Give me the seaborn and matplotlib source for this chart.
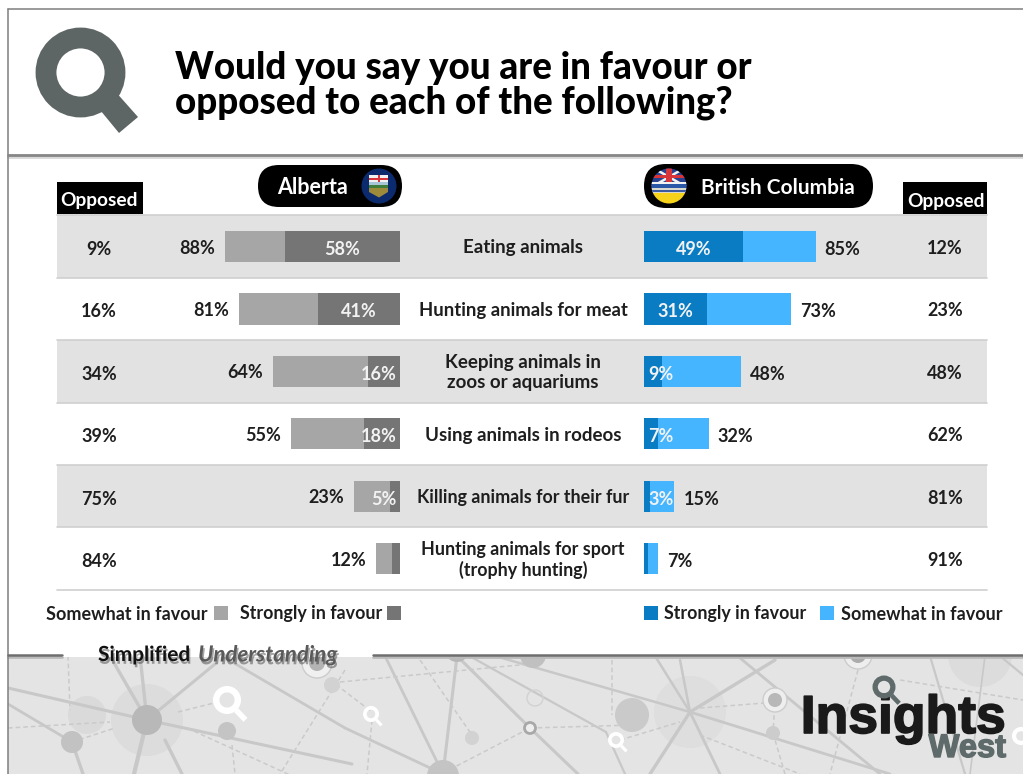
import numpy as np
import pandas as pd
import matplotlib
matplotlib.use("Agg")
import matplotlib.pyplot as plt
import matplotlib.patheffects as pe
from matplotlib.patches import Circle, FancyBboxPatch, Polygon, Rectangle
import seaborn as sns

# Survey results, in percent
activities = ["Eating animals", "Hunting animals for meat",
              "Keeping animals in\nzoos or aquariums", "Using animals in rodeos",
              "Killing animals for their fur",
              "Hunting animals for sport\n(trophy hunting)"]
ab_opposed = [9, 16, 34, 39, 75, 84]
ab_favour = [88, 81, 64, 55, 23, 12]
ab_strong = [58, 41, 16, 18, 5, 4]
ab_strong_labels = ["58%", "41%", "16%", "18%", "5%", ""]
bc_opposed = [12, 23, 48, 62, 81, 91]
bc_favour = [85, 73, 48, 32, 15, 7]
bc_strong = [49, 31, 9, 7, 3, 2]
bc_strong_labels = ["49%", "31%", "9%", "7%", "3%", ""]

title_lines = "Would you say you are in favour or\nopposed to each of the following?"

AB_LIGHT, AB_DARK = "#a6a6a6", "#757575"
BC_LIGHT, BC_DARK = "#45b5ff", "#0a7cc4"
BAND = "#e2e2e2"
RULE = "#cfcfcf"
GREY_ICON = "#5d6664"
FONT = "Lato"

W, H = 1023, 774
sns.set_theme(style="white")
plt.rcParams["font.family"] = [FONT, "DejaVu Sans"]
fig = plt.figure(figsize=(W / 100, H / 100), dpi=100, facecolor="white")


def px_axes(x0, y0, x1, y1, **kw):
    """Axes placed by pixel box, origin at the top left of the figure."""
    return fig.add_axes([x0 / W, 1 - y1 / H, (x1 - x0) / W, (y1 - y0) / H], **kw)


canvas = px_axes(0, 0, W, H, zorder=0)
canvas.set_xlim(0, W)
canvas.set_ylim(H, 0)
canvas.axis("off")


def lens(cx, cy, r, color, zorder=3.0):
    """Magnifying-glass icon centred on the lens."""
    band = r * 0.46
    canvas.add_patch(Circle((cx, cy), r - band / 2, fc="none", ec=color,
                            lw=band * 0.72, zorder=zorder))
    canvas.plot([cx + r * 0.65, cx + r * 1.32], [cy + r * 0.72, cy + r * 1.42],
                color=color, lw=band * 0.62, solid_capstyle="butt", zorder=zorder)


# Network artwork along the footer
footer = Rectangle((8, 656), W - 8, H - 656, fc="#e4e4e4", ec="none", zorder=0)
canvas.add_patch(footer)
solid = [((8, 688), (147, 720), 2.2), ((8, 704), (72, 742), 2.0), ((110, 656), (147, 720), 2.4),
         ((140, 656), (147, 720), 2.4), ((147, 720), (215, 664), 2.2), ((147, 720), (352, 764), 2.2),
         ((147, 720), (134, 774), 3), ((165, 740), (182, 774), 2.4), ((72, 742), (83, 774), 2.4),
         ((222, 656), (345, 728), 2.0), ((345, 728), (443, 774), 2.0), ((385, 656), (443, 774), 2),
         ((457, 656), (443, 774), 2.2), ((457, 656), (530, 728), 2.2), ((530, 728), (578, 774), 2.2),
         ((473, 658), (606, 732), 1.6), ((495, 656), (690, 712), 1.8), ((606, 732), (625, 774), 1.6),
         ((655, 656), (690, 712), 1.8), ((690, 712), (680, 660), 1.8), ((690, 712), (775, 660), 2.4),
         ((690, 712), (890, 774), 2.0), ((690, 712), (650, 774), 2.4), ((690, 712), (720, 774), 2.0),
         ((740, 658), (880, 774), 2.0), ((930, 656), (965, 774), 1.6), ((985, 656), (970, 774), 1.2),
         ((1000, 656), (1023, 675), 1.6)]
for a, b, lw in solid:
    canvas.plot(*zip(a, b), color="#c8c8c8", lw=lw, solid_capstyle="round", zorder=0.2)[0].set_clip_path(footer)
dashed = [((68, 656), (70, 710)), ((8, 728), (110, 722)), ((72, 742), (115, 728)),
          ((178, 712), (214, 703)), ((187, 728), (290, 775)), ((330, 680), (372, 712)),
          ((345, 670), (280, 774)), ((232, 745), (235, 774)), ((372, 720), (367, 774)),
          ((443, 773), (530, 728)), ((530, 728), (635, 725)), ((620, 740), (680, 722)),
          ((420, 660), (472, 735)), ((612, 660), (612, 715)), ((700, 708), (765, 703)),
          ((775, 700), (773, 733)), ((773, 733), (785, 774)), ((858, 670), (830, 774)),
          ((700, 735), (800, 774)), ((340, 682), (530, 664)), ((900, 680), (1023, 700))]
for a, b in dashed:
    canvas.plot(*zip(a, b), color="#cacaca", lw=1.1, ls=(0, (3, 2)), zorder=0.2)[0].set_clip_path(footer)
discs = [(147, 720, 36, "#dcdcdc", 0.15), (87, 715, 19, "#dadada", 0.15), (690, 712, 36, "#dedede", 0.15),
         (980, 655, 32, "#dcdcdc", 0.15),
         (147, 720, 15, "#b8b8b8", 0.3), (72, 742, 11, "#c2c2c2", 0.3), (227, 731, 9, "#c4c4c4", 0.3),
         (332, 685, 8, "#d2d2d2", 0.3), (472, 738, 7, "#d2d2d2", 0.3), (533, 655, 13, "#c0c0c0", 0.3),
         (632, 715, 17, "#cacaca", 0.3), (773, 733, 7, "#cccccc", 0.3), (457, 650, 12, "#b8b8b8", 0.3),
         (443, 776, 16, "#c4c4c4", 0.3)]
for cx, cy, r, c, z in discs:
    canvas.add_patch(Circle((cx, cy), r, fc=c, ec="none", zorder=z)).set_clip_path(footer)
rings = [(317, 663, 15, "#f0f0f0", "#b4b4b4", 8), (775, 700, 12, "#eeeeee", "#b8b8b8", 7),
         (858, 655, 14, "#eeeeee", "#acacac", 8)]
for cx, cy, r, e, f, ri in rings:
    canvas.add_patch(Circle((cx, cy), r, fc=e, ec="#cccccc", lw=1, zorder=0.3)).set_clip_path(footer)
    canvas.add_patch(Circle((cx, cy), ri, fc=f, ec="none", zorder=0.31)).set_clip_path(footer)
canvas.add_patch(Circle((530, 728), 5.5, fc="#eeeeee", ec="#a8a8a8", lw=2, zorder=0.4))
canvas.add_patch(Circle((535, 698), 8, fc="none", ec="#d2d2d2", lw=1, zorder=0.4))
for cx, cy, r in [(227, 700, 14), (371, 714, 8), (616, 740, 8), (1021, 736, 9)]:
    lens(cx, cy, r, "white", zorder=0.5)

# Frame and section rules
canvas.plot([8, 8], [9, H], color="#7f7f7f", lw=1.1, zorder=5)
canvas.plot([8, W], [9, 9], color="#7f7f7f", lw=1.1, zorder=5)
canvas.plot([8, W], [157, 157], color="#d8d8d8", lw=2, zorder=4)
canvas.plot([8, W], [155, 155], color="#868686", lw=2, zorder=5)
for x0, x1 in [(8, 62), (373, W)]:
    canvas.plot([x0, x1], [657, 657], color="#bbbbbb", lw=2, zorder=4)
    canvas.plot([x0, x1], [655, 655], color="#6e6e6e", lw=1.8, zorder=5)

# Header icon and question
canvas.add_patch(Polygon([(96, 105), (114, 90), (138, 117), (119, 133)], fc=GREY_ICON, ec="none", zorder=3))
canvas.add_patch(Circle((80.5, 72.5), 34.5, fc="none", ec=GREY_ICON, lw=15, zorder=3))
canvas.text(175, 85.5, title_lines, fontsize=26.5, fontweight="black", color="black",
            va="center", ha="left", linespacing=1.02)

# Alternating row bands
row_top, row_step = 215.3, 62.4
centres = [row_top + row_step * (i + 0.5) for i in range(len(activities))]
for i, c in enumerate(centres):
    if i % 2 == 0:
        canvas.add_patch(Rectangle((57, c - row_step / 2), 930, row_step, fc=BAND, ec="none", zorder=0.5))
    canvas.plot([57, 987], [c + row_step / 2] * 2, color=RULE, lw=1.2, zorder=0.6)
canvas.plot([57, 987], [row_top] * 2, color=RULE, lw=1.2, zorder=0.6)

# Province headers
for x0, x1, y0, y1 in [(258, 402, 165, 207), (644, 873, 164, 208)]:
    r = (y1 - y0) / 2
    canvas.add_patch(FancyBboxPatch((x0, y0), x1 - x0, y1 - y0,
                                    boxstyle=f"round,pad=0,rounding_size={r}",
                                    fc="black", ec="none", zorder=2))
canvas.text(312.5, 188, "Alberta", color="white", fontsize=15.5, fontweight="bold", ha="center", va="center", zorder=3)
canvas.text(777.5, 188, "British Columbia", color="white", fontsize=15, fontweight="bold", ha="center", va="center", zorder=3)

# Alberta flag roundel
canvas.add_patch(Circle((379, 186), 17.5, fc="#0c2a6e", ec="none", zorder=3))
canvas.add_patch(Rectangle((369, 175), 19, 7, fc="#f2f2f2", ec="none", zorder=3.1))
canvas.add_patch(Rectangle((369, 177.5), 19, 2, fc="#d8353a", ec="none", zorder=3.2))
canvas.add_patch(Rectangle((377.5, 175), 2, 7, fc="#d8353a", ec="none", zorder=3.2))
canvas.add_patch(Polygon([(369, 182), (388, 182), (388, 192), (379, 197.5), (369, 192)],
                         fc="#9d8a3b", ec="none", zorder=3.1))
canvas.add_patch(Rectangle((369, 182), 19, 3, fc="#a9c6d8", ec="none", zorder=3.2))
canvas.add_patch(Rectangle((369, 185), 19, 3, fc="#3f7d3a", ec="none", zorder=3.2))

# British Columbia flag roundel
bc_disc = Circle((669, 186), 17.5, transform=canvas.transData)
bc_parts = [Rectangle((651, 168), 36, 21, fc="#27408f", ec="none"),
            Polygon([(651, 168), (656, 168), (687, 186), (682, 186)], fc="#f2f2f2", ec="none"),
            Polygon([(687, 168), (682, 168), (651, 186), (656, 186)], fc="#f2f2f2", ec="none"),
            Rectangle((666, 168), 6, 18, fc="#d8353a", ec="none"),
            Rectangle((651, 175), 36, 3, fc="#d8353a", ec="none"),
            Rectangle((651, 182), 36, 2, fc="#f2f2f2", ec="none"),
            Rectangle((651, 184), 36, 4, fc="#2b57a8", ec="none"),
            Rectangle((651, 188), 36, 5, fc="#d8d8d0", ec="none"),
            Rectangle((651, 190), 36, 2, fc="#3b5aa0", ec="none"),
            Rectangle((651, 193), 36, 11, fc="#f6d21b", ec="none")]
for part in bc_parts:
    part.set_zorder(3.1)
    canvas.add_patch(part)
    part.set_clip_path(bc_disc)

# Opposed column heads
canvas.add_patch(Rectangle((57, 182), 86, 32, fc="black", ec="none", zorder=2))
canvas.add_patch(Rectangle((903, 182), 84, 32, fc="black", ec="none", zorder=2))
canvas.text(99, 200.5, "Opposed", color="white", fontsize=13.8, fontweight="bold", ha="center", va="center", zorder=3)
canvas.text(945.5, 202, "Opposed", color="white", fontsize=13.8, fontweight="bold", ha="center", va="center", zorder=3)

# Bar panels: the total goes down first, the strong share sits on top of it
frame = pd.DataFrame({"activity": activities, "ab_total": ab_favour, "ab_strong": ab_strong,
                      "bc_total": bc_favour, "bc_strong": bc_strong})
panel_bottom = row_top + row_step * len(activities)
ab_ax = px_axes(100, row_top, 400, panel_bottom, zorder=1, facecolor="none")
bc_ax = px_axes(644, row_top, 944, panel_bottom, zorder=1, facecolor="none")
for ax, total, strong, light, dark in [(ab_ax, "ab_total", "ab_strong", AB_LIGHT, AB_DARK),
                                       (bc_ax, "bc_total", "bc_strong", BC_LIGHT, BC_DARK)]:
    sns.barplot(data=frame, x=total, y="activity", orient="h", color=light,
                width=0.5, saturation=1, linewidth=0, ax=ax)
    sns.barplot(data=frame, x=strong, y="activity", orient="h", color=dark,
                width=0.5, saturation=1, linewidth=0, ax=ax)
    ax.set_ylim(len(activities) - 0.5, -0.5)
    ax.axis("off")
ab_ax.set_xlim(300 / 1.99, 0)
bc_ax.set_xlim(0, 300 / 2.02)

VAL = dict(fontsize=13, fontweight="bold", color="#1e1e1e", va="center")
row_sizes = [13.5, 13.3, 13.5, 13.5, 12.9, 12.9]
for i, c in enumerate(centres):
    canvas.text(99, c + 3, f"{ab_opposed[i]}%", ha="center", zorder=3, **VAL)
    canvas.text(945, c + 2, f"{bc_opposed[i]}%", ha="center", zorder=3, **VAL)
    ab_ax.annotate(f"{ab_favour[i]}%", (ab_favour[i], i), xytext=(-7, -1.2), textcoords="offset points",
                   ha="right", **VAL)
    bc_ax.annotate(f"{bc_favour[i]}%", (bc_favour[i], i), xytext=(6.5, -2.2), textcoords="offset points",
                   ha="left", **VAL)
    canvas.text(523, c + 1.5, activities[i], ha="center", va="center", fontsize=row_sizes[i], fontweight="bold",
                color="#1e1e1e", linespacing=1.22, zorder=3)
    inner = dict(color="#f2f2f2", fontsize=13, fontweight="bold", va="center", zorder=3)
    if ab_strong[i] >= 30:
        ab_ax.annotate(ab_strong_labels[i], (ab_strong[i] / 2, i), xytext=(0, -2.2),
                       textcoords="offset points", ha="center", **inner)
    else:
        ab_ax.annotate(ab_strong_labels[i], (0, i), xytext=(-2.5, -2.2),
                       textcoords="offset points", ha="right", **inner)
    if bc_strong[i] >= 30:
        bc_ax.annotate(bc_strong_labels[i], (bc_strong[i] / 2, i), xytext=(0, -2.2),
                       textcoords="offset points", ha="center", **inner)
    else:
        bc_ax.annotate(bc_strong_labels[i], (0, i), xytext=(3, -2.2),
                       textcoords="offset points", ha="left", **inner)

# Colour keys
KEY = dict(fontweight="bold", color="#1e1e1e", va="center", zorder=3)
canvas.text(207, 614, "Somewhat in favour", ha="right", fontsize=13.0, **KEY)
canvas.add_patch(Rectangle((214, 606), 14, 14, fc=AB_LIGHT, ec="none", zorder=3))
canvas.text(382, 614, "Strongly in favour", ha="right", fontsize=12.9, **KEY)
canvas.add_patch(Rectangle((387, 606), 14, 14, fc=AB_DARK, ec="none", zorder=3))
canvas.add_patch(Rectangle((644, 606), 14, 14, fc=BC_DARK, ec="none", zorder=3))
canvas.text(664, 614, "Strongly in favour", ha="left", fontsize=12.9, **KEY)
canvas.add_patch(Rectangle((820, 606), 14, 14, fc=BC_LIGHT, ec="none", zorder=3))
canvas.text(841, 614, "Somewhat in favour", ha="left", fontsize=13.0, **KEY)

# Footer caption with a soft drop shadow
canvas.add_patch(Rectangle((62, 650), 311, 7, fc="white", ec="none", zorder=4.5))
shadow = [pe.withSimplePatchShadow(offset=(1, -2), alpha=0.35, shadow_rgbFace="black")]
canvas.text(98, 655, "Simplified", fontsize=15, fontweight="bold", color="#111111", va="center",
            zorder=6, path_effects=shadow)
canvas.text(198, 655, "Understanding", fontsize=16, fontstyle="italic", fontweight="bold", color="#5a5a5a",
            va="center", zorder=6, path_effects=shadow)

# Company logo
heavy = [pe.withStroke(linewidth=1.2, foreground="#1a1a1a")]
canvas.text(1006, 733, "Insights", fontsize=38.5, fontweight="bold", family="Liberation Sans", color="#1a1a1a",
            ha="right", va="baseline", zorder=3, path_effects=heavy)
canvas.text(1006, 757, "West", fontsize=23.5, fontweight="bold", family="Liberation Sans", color="#5f6a6a",
            ha="right", va="baseline", zorder=3,
            path_effects=[pe.withStroke(linewidth=1, foreground="#5f6a6a")])
lens(884, 687, 11.5, "#5f6a6a", zorder=3)

fig.savefig("out.png", dpi=100, facecolor="white")
